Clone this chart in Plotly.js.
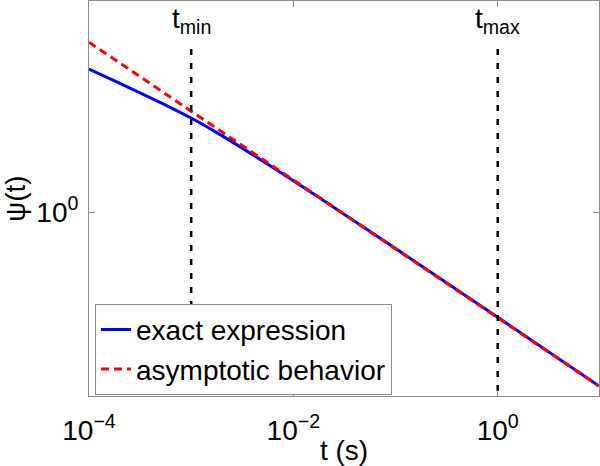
<!DOCTYPE html>
<html>
<head>
<meta charset="utf-8">
<script src="https://cdn.plot.ly/plotly-3.0.1.min.js"></script>
<style>html,body{margin:0;padding:0;background:#fff;}#chart{width:600px;height:466px;}</style>
</head>
<body>
<div id="chart"></div>
<script>
// time (s)
const tExact = [1e-4, 1.78e-4, 3.16e-4, 5.62e-4, 1e-3, 1.78e-3, 3.16e-3, 5.62e-3, 1e-2, 3.16e-2, 1e-1, 1, 9.8];
// psi(t), exact expression
const psiExact = [3.297, 2.984, 2.702, 2.441, 2.190, 1.939, 1.704, 1.490, 1.2985, 0.9799, 0.7373, 0.4153, 0.2342];
// time (s) for asymptotic power law
const tAsym = [1e-4, 1e-3, 1e-2, 1e-1, 1, 9.8];
// psi(t), asymptotic behavior
const psiAsym = [4.120, 2.322, 1.3085, 0.7373, 0.4153, 0.2342];
// marker times
const tMin = 1e-3;
const tMax = 1;
const markerLineY = [0.2, 4.1];
const xTickVals = [1e-4, 1e-2, 1];
const xTickText = ['10<sup>\u22124</sup>', '10<sup>\u22122</sup>', '10<sup>0</sup>'];
const yTickVals = [1];
const yTickText = ['10<sup>0</sup>'];

const FONT = 'Liberation Sans, Arial, sans-serif';
const FS = 28;
const traces = [
  {x: tExact, y: psiExact, type: 'scatter', mode: 'lines', name: 'exact expression',
   line: {color: '#0000ff', width: 3, shape: 'spline', smoothing: 0.8}},
  {x: tAsym, y: psiAsym, type: 'scatter', mode: 'lines', name: 'asymptotic behavior',
   line: {color: '#ff0000', width: 3, dash: '8px,5px'}},
  {x: [tMin, tMin], y: markerLineY, type: 'scatter', mode: 'lines', showlegend: false,
   line: {color: '#000000', width: 2.5, dash: '6px,8px'}},
  {x: [tMax, tMax], y: markerLineY, type: 'scatter', mode: 'lines', showlegend: false,
   line: {color: '#000000', width: 2.5, dash: '6px,8px'}}
];
const axisCommon = {
  type: 'log', showgrid: false, zeroline: false, showline: true, linecolor: '#8c8c8c', linewidth: 1,
  mirror: 'ticks', ticks: 'inside', ticklen: 6, tickcolor: '#8c8c8c', tickwidth: 1,
  tickfont: {family: FONT, size: FS, color: '#000'}, automargin: false
};
const layout = {
  width: 600, height: 466,
  margin: {l: 89, r: 1, t: 1, b: 70},
  paper_bgcolor: '#fff', plot_bgcolor: '#fff',
  showlegend: true,
  font: {family: FONT, size: FS, color: '#000'},
  xaxis: Object.assign({}, axisCommon, {
    range: [-4, Math.log10(9.8)], tickvals: xTickVals, ticktext: xTickText, ticklabelstandoff: 9,
    title: {text: 't (s)', font: {family: FONT, size: FS, color: '#000'}, standoff: 0}
  }),
  yaxis: Object.assign({}, axisCommon, {
    range: [-0.6667, 0.7645], tickvals: yTickVals, ticktext: yTickText, ticklabelstandoff: 4,
    title: {text: '\u03c8(t)', font: {family: FONT, size: FS, color: '#000'}, standoff: 14}
  }),
  legend: {
    x: 0.0118, y: 0.003, xanchor: 'left', yanchor: 'bottom',
    bgcolor: '#fff', bordercolor: '#8c8c8c', borderwidth: 1,
    font: {family: FONT, size: FS, color: '#000'}
  },
  annotations: [
    {x: Math.log10(tMin), y: 1, xref: 'x', yref: 'paper', yanchor: 'top', xanchor: 'center',
     text: 't<sub>min</sub>', showarrow: false, font: {family: FONT, size: FS, color: '#000'}},
    {x: Math.log10(tMax), y: 1, xref: 'x', yref: 'paper', yanchor: 'top', xanchor: 'center',
     text: 't<sub>max</sub>', showarrow: false, font: {family: FONT, size: FS, color: '#000'}}
  ]
};
Plotly.newPlot('chart', traces, layout, {displayModeBar: false, staticPlot: true});
</script>
</body>
</html>
